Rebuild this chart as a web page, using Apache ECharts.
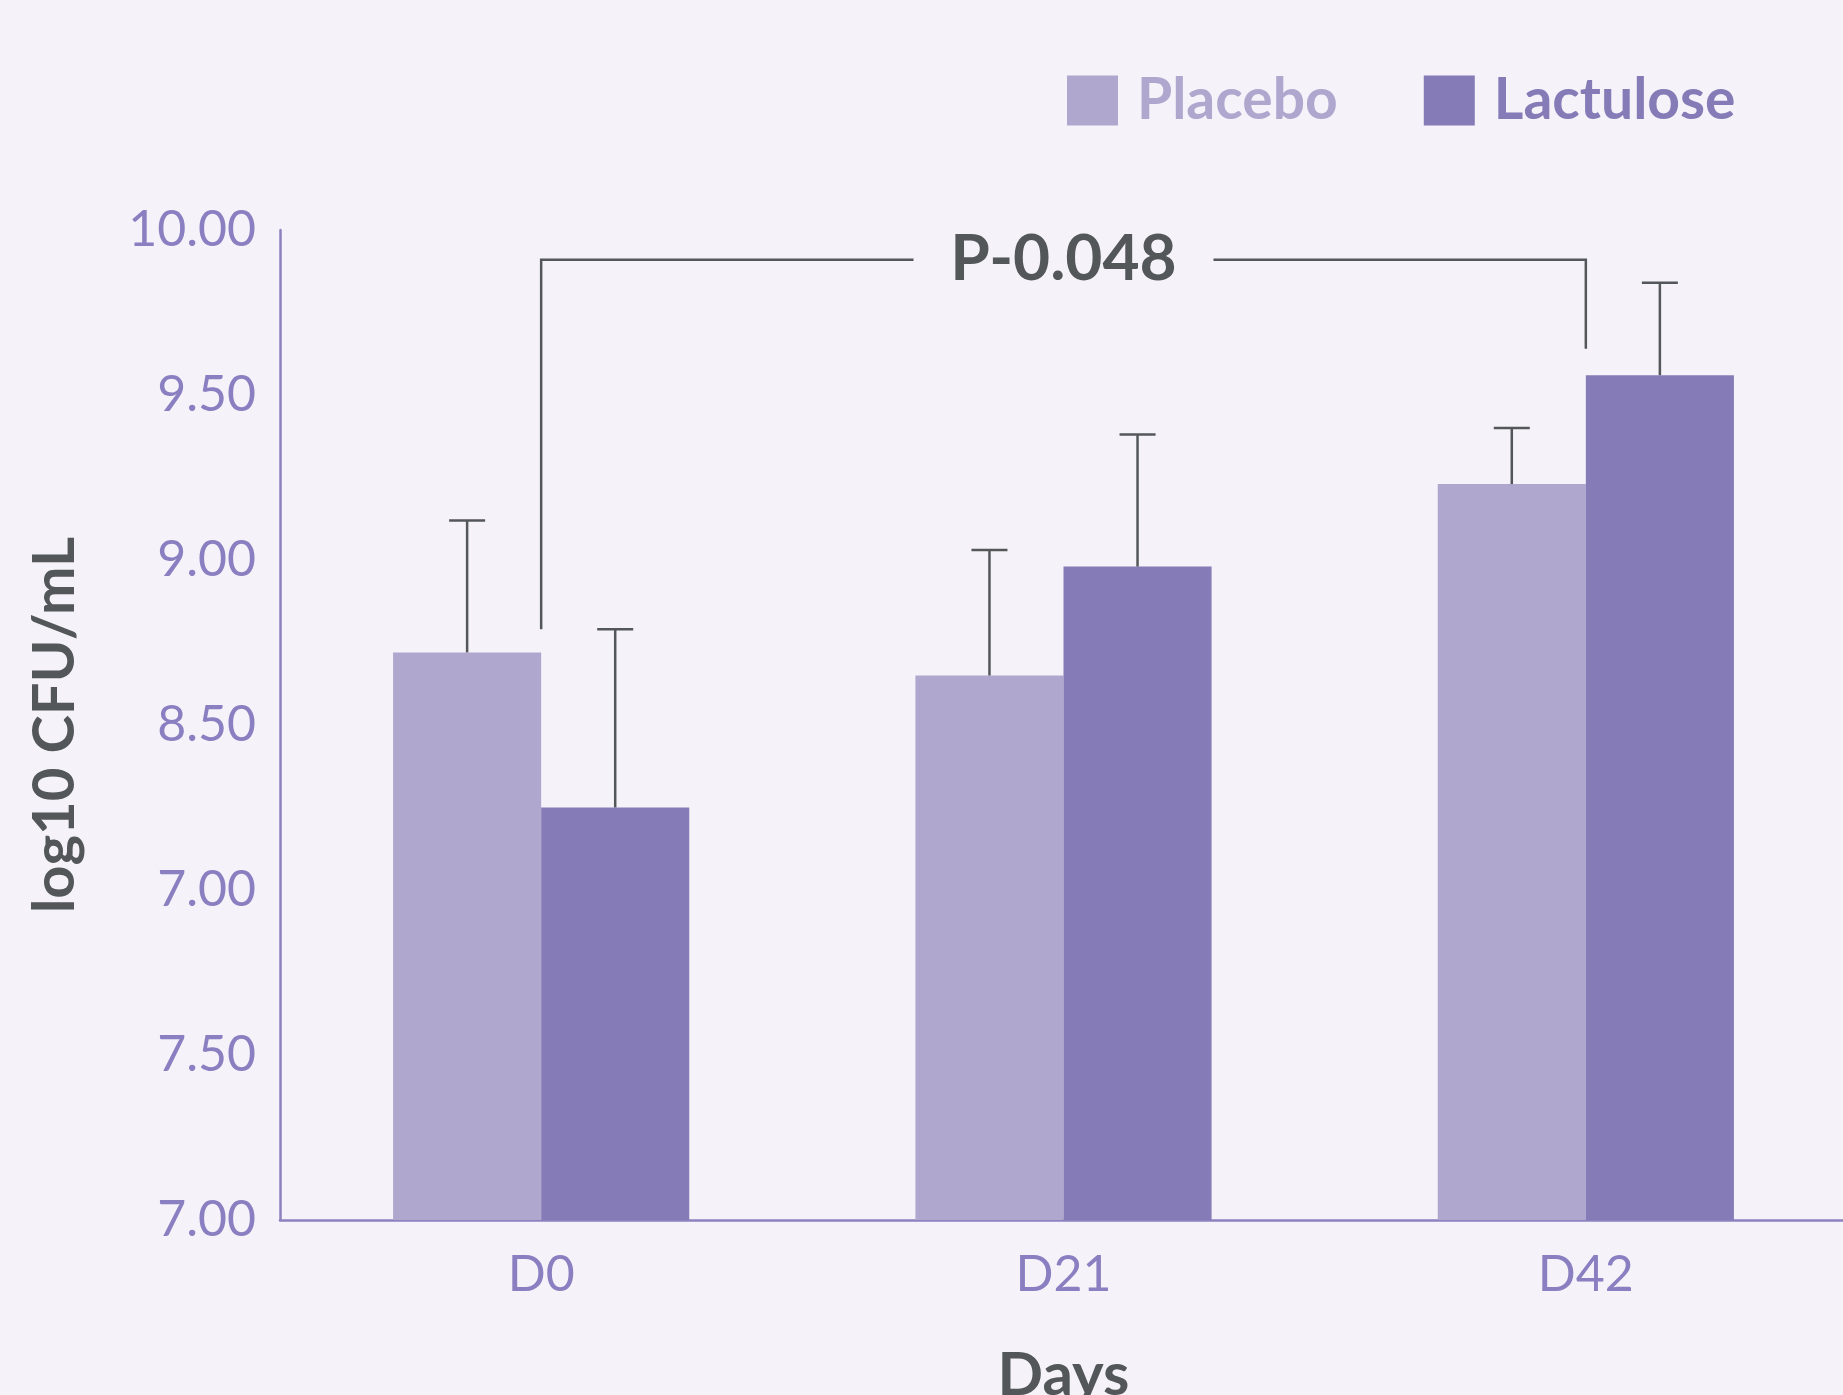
<!DOCTYPE html>
<html>
<head>
<meta charset="utf-8">
<script src="https://cdn.jsdelivr.net/npm/echarts@6/dist/echarts.min.js"></script>
<style>
html,body{margin:0;padding:0;background:#f5f3f9;}
#chart{width:1843px;height:1395px;}
</style>
</head>
<body>
<div id="chart"></div>
<script>
// ---- data ----
var categories = ['D0', 'D21', 'D42'];
var seriesNames = ['Placebo', 'Lactulose'];
var placeboValues = [8.72, 8.65, 9.23];
var placeboErrTop = [9.12, 9.03, 9.40];
var lactuloseValues = [8.25, 8.98, 9.56];
var lactuloseErrTop = [8.79, 9.38, 9.84];
var yTickLabels = ['7.00', '7.50', '7.00', '8.50', '9.00', '9.50', '10.00'];
var yMin = 7, yMax = 10, yStep = 0.5;
var bracketCats = ['D0', 'D21', 'D42'];   // left end, label position, right end
var bracketYs = [8.79, 9.91, 9.64];       // left foot, top line, right foot
var bracketLabel = 'P-0.048';

// ---- styles ----
var BG = '#f5f3f9';
var C_PLACEBO = '#afa7ce';
var C_LACT = '#857bb7';
var C_AXIS = '#8c82c0';
var C_TICK = '#8a7fc1';
var C_DARK = '#53575a';
var CAT_GAP = 0.433;

var chart = echarts.init(document.getElementById('chart'));

function errData(vals, tops) {
  return vals.map(function (v, i) { return [i, v, tops[i]]; });
}

function errRenderer(side) {
  return function (params, api) {
    var idx = api.value(0);
    var band = api.size([1, 0])[0];
    var barW = band * (1 - CAT_GAP) / 2;
    var base = api.coord([idx, api.value(1)]);
    var top = api.coord([idx, api.value(2)]);
    var x = base[0] + side * barW / 2;
    var cap = 18;
    return {
      type: 'group',
      children: [
        { type: 'line', shape: { x1: x, y1: base[1], x2: x, y2: top[1] },
          style: { stroke: C_DARK, lineWidth: 2.5 } },
        { type: 'line', shape: { x1: x - cap, y1: top[1], x2: x + cap, y2: top[1] },
          style: { stroke: C_DARK, lineWidth: 2.5 } }
      ]
    };
  };
}

var option = {
  backgroundColor: BG,
  animation: false,
  legend: {
    left: 1062,
    top: 67,
    itemWidth: 51,
    itemHeight: 50,
    itemGap: 86,
    icon: 'rect',
    data: [
      { name: seriesNames[0], textStyle: { color: C_PLACEBO } },
      { name: seriesNames[1], textStyle: { color: C_LACT } }
    ],
    textStyle: { fontFamily: 'Lato', fontWeight: 'bold', fontSize: 57, padding: [4, 0, 0, 14] }
  },
  grid: { left: 280, top: 230, width: 1567, bottom: 175, containLabel: false, outerBoundsMode: 'none' },
  xAxis: {
    type: 'category',
    data: categories,
    axisLine: { lineStyle: { color: C_AXIS, width: 2.5 } },
    axisTick: { show: false },
    axisLabel: { color: C_TICK, fontFamily: 'Lato', fontSize: 50, margin: 30 },
    name: 'Days',
    nameLocation: 'middle',
    nameGap: 126,
    nameTextStyle: { color: C_DARK, fontFamily: 'Lato', fontWeight: 'bold', fontSize: 60 }
  },
  yAxis: {
    type: 'value',
    min: yMin,
    max: yMax,
    interval: yStep,
    splitLine: { show: false },
    axisLine: { show: true, lineStyle: { color: C_AXIS, width: 2.5 } },
    axisTick: { show: false },
    axisLabel: {
      color: C_TICK, fontFamily: 'Lato', fontSize: 50, margin: 24,
      formatter: function (v) { return yTickLabels[Math.round((v - yMin) / yStep)]; }
    },
    name: 'log10 CFU/mL',
    nameLocation: 'middle',
    nameRotate: 90,
    nameGap: 196,
    nameTextStyle: { color: C_DARK, fontFamily: 'Lato', fontWeight: 'bold', fontSize: 58 }
  },
  series: [
    {
      name: seriesNames[0], type: 'bar', data: placeboValues,
      barGap: '0%', barCategoryGap: (CAT_GAP * 100) + '%',
      itemStyle: { color: C_PLACEBO }
    },
    {
      name: seriesNames[1], type: 'bar', data: lactuloseValues,
      barGap: '0%', barCategoryGap: (CAT_GAP * 100) + '%',
      itemStyle: { color: C_LACT }
    },
    {
      type: 'custom', z: 5, renderItem: errRenderer(-1),
      data: errData(placeboValues, placeboErrTop), silent: true
    },
    {
      type: 'custom', z: 5, renderItem: errRenderer(1),
      data: errData(lactuloseValues, lactuloseErrTop), silent: true
    },
    {
      type: 'custom', z: 6, silent: true,
      data: [[categories.indexOf(bracketCats[0]), bracketYs[0], bracketYs[1],
              categories.indexOf(bracketCats[1]),
              categories.indexOf(bracketCats[2]), bracketYs[2]]],
      renderItem: function (params, api) {
        var pL = api.coord([api.value(0), api.value(1)]);
        var pLT = api.coord([api.value(0), api.value(2)]);
        var pM = api.coord([api.value(3), api.value(2)]);
        var pRT = api.coord([api.value(4), api.value(2)]);
        var pR = api.coord([api.value(4), api.value(5)]);
        var halfGap = 150;
        return {
          type: 'group',
          children: [
            { type: 'polyline',
              shape: { points: [pL, pLT, [pM[0] - halfGap, pLT[1]]] },
              style: { stroke: C_DARK, lineWidth: 2.5, fill: null } },
            { type: 'polyline',
              shape: { points: [[pM[0] + halfGap, pRT[1]], pRT, pR] },
              style: { stroke: C_DARK, lineWidth: 2.5, fill: null } },
            { type: 'text', x: pM[0], y: pM[1],
              style: { text: bracketLabel, fill: C_DARK, fontFamily: 'Lato', fontWeight: 'bold',
                       fontSize: 64, align: 'center', verticalAlign: 'middle' } }
          ]
        };
      }
    }
  ]
};
chart.setOption(option);
</script>
</body>
</html>
